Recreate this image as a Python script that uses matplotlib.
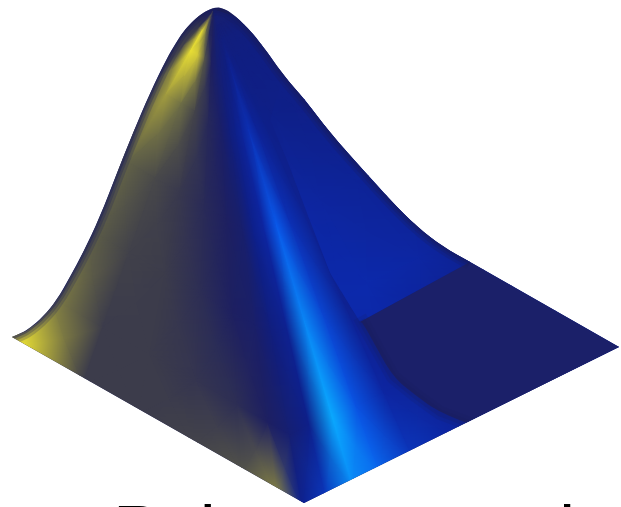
"""Lit membrane surface, drawn as gouraud shaded fans clipped to its outline."""
import numpy as np
import matplotlib
matplotlib.use('Agg')
import matplotlib.pyplot as plt
import matplotlib.patches as mpatches
from matplotlib.path import Path
from matplotlib.colors import LinearSegmentedColormap

caption = "Polyspace tool"

# outline of the surface
top_x = [12, 22, 30, 43, 57, 70, 83, 100, 117, 133, 150, 167, 176, 183, 192, 200, 208, 217, 224, 230,
         243, 260, 283, 305, 330, 363, 390, 417, 443, 470]
top_y = [337, 333, 328, 317, 300, 277, 253, 217, 173, 133, 93, 58, 43, 32, 22, 15, 10, 7, 9, 12,
         23, 42, 75, 100, 133, 170, 200, 227, 247, 262]
corner_x = [619, 304]
corner_y = [347, 503]

apex = (214, 10)
stations = [0, .06, .12, .25, .45, .65, .85, 1.0]

# fan over the whole surface
ray_x = [-80, -40, 22, 83, 138, 193, 242, 277, 303, 326, 353, 381, 414, 455, 530, 620, 600, 500]
ray_y = [120, 308, 348, 384, 415, 446, 475, 495, 510, 498, 488, 476, 460, 438, 391, 347, 250, 100]
shade = [
    [.50, .45, .42, .42, .42, .42, .42, .42],
    [.50, .42, .38, .38, .42, .42, .42, .30],
    [.50, .05, .03, .20, .33, .33, .25, .03],
    [.50, .30, .10, .30, .39, .41, .42, .42],
    [.50, .48, .36, .40, .43, .42, .42, .42],
    [.50, .50, .50, .48, .47, .46, .44, .40],
    [.52, .54, .54, .52, .50, .50, .46, .36],
    [.52, .55, .56, .57, .53, .52, .50, .25],
    [.53, .56, .57, .60, .60, .57, .54, .62],
    [.53, .56, .58, .64, .66, .62, .60, .72],
    [.53, .57, .62, .70, .82, .92, 1.0, .93],
    [.53, .57, .59, .63, .70, .76, .80, .85],
    [.53, .57, .58, .60, .62, .62, .66, .72],
    [.53, .57, .58, .59, .60, .60, .62, .66],
    [.53, .57, .58, .59, .60, .60, .60, .60],
    [.53, .57, .58, .59, .60, .60, .60, .60],
    [.53, .57, .58, .59, .60, .60, .60, .60],
    [.53, .57, .58, .59, .60, .60, .60, .60],
]

# second fold, behind the crease
lobe_x = [270, 287, 307, 330, 360, 470, 443, 417, 390, 363, 330, 305, 283]
lobe_y = [120, 160, 213, 273, 322, 262, 247, 227, 200, 170, 133, 100, 75]
lobe_ray_x = [410, 450, 530, 620, 600, 500]
lobe_ray_y = [452, 431, 391, 347, 250, 100]
lobe_shade = [
    [.59, .59, .59, .60, .66, .68, .68, .68],
    [.59, .59, .59, .60, .65, .68, .66, .66],
    [.59, .59, .59, .59, .63, .66, .60, .60],
    [.59, .59, .59, .59, .62, .60, .60, .60],
    [.59, .59, .59, .59, .60, .60, .60, .60],
    [.59, .59, .59, .59, .60, .60, .60, .60],
]

# flat part of the floor
floor_x = [360, 470, 619, 467, 440, 415, 393, 375, 363]
floor_y = [322, 262, 347, 423, 413, 395, 377, 345, 323]

light = LinearSegmentedColormap.from_list('light', [
    (0.00, '#f5eb32'), (0.15, '#beb43c'), (0.30, '#6e6e46'), (0.42, '#3c3c4b'),
    (0.50, '#1e2060'), (0.58, '#0f1e82'), (0.68, '#0c28aa'), (0.82, '#0a5aeb'),
    (1.00, '#0aaaff')])


def smooth_path(xs, ys):
    # quadratic curve through the midpoints of the polyline
    pts = np.c_[xs, ys]
    verts = [pts[0]]
    codes = [Path.MOVETO]
    for i in range(1, len(pts) - 1):
        verts += [pts[i], (pts[i] + pts[i + 1]) / 2]
        codes += [Path.CURVE3, Path.CURVE3]
    verts.append(pts[-1])
    codes.append(Path.LINETO)
    return verts, codes


def draw_fan(ax, ends_x, ends_y, values, clip):
    f = np.array(stations)
    x = apex[0] + np.outer(np.array(ends_x) - apex[0], f)
    y = apex[1] + np.outer(np.array(ends_y) - apex[1], f)
    mesh = ax.pcolormesh(x, y, np.array(values), shading='gouraud', cmap=light, vmin=0, vmax=1)
    mesh.set_clip_path(clip)


def make_plot():
    plt.close('all')
    fig = plt.figure(figsize=(6.21, 5.07), dpi=100)
    ax = fig.add_axes([0, 0, 1, 1])

    verts, codes = smooth_path(top_x, top_y)
    rim_path = Path(verts, codes)
    body_path = Path(verts + [(corner_x[0], corner_y[0]), (corner_x[1], corner_y[1]), verts[0], verts[0]],
                     codes + [Path.LINETO, Path.LINETO, Path.LINETO, Path.CLOSEPOLY])
    body = mpatches.PathPatch(body_path, fc='#191c5a', ec='none')
    ax.add_patch(body)
    draw_fan(ax, ray_x, ray_y, shade, body)

    lobe = mpatches.Polygon(np.c_[lobe_x, lobe_y], closed=True, fc='none', ec='none')
    ax.add_patch(lobe)
    draw_fan(ax, lobe_ray_x, lobe_ray_y, lobe_shade, lobe)

    # soft shadow under the floor's curved edge
    for lw, alpha in [(10, .15), (5, .2)]:
        edge, = ax.plot(floor_x[3:], floor_y[3:], color='#191c5a', lw=lw, alpha=alpha)
        edge.set_clip_path(body)
    floor_verts, floor_codes = smooth_path(floor_x[3:] + floor_x[:1], floor_y[3:] + floor_y[:1])
    floor_verts += [(floor_x[1], floor_y[1]), (floor_x[2], floor_y[2]), floor_verts[0], floor_verts[0]]
    floor_codes += [Path.LINETO, Path.LINETO, Path.LINETO, Path.CLOSEPOLY]
    floor = mpatches.PathPatch(Path(floor_verts, floor_codes), fc='#1b2069', ec='none')
    ax.add_patch(floor)
    floor.set_clip_path(body)

    # dark rim along the silhouette
    for lw, alpha in [(11, .22), (7, .28), (3.5, .4)]:
        rim = mpatches.PathPatch(rim_path, fc='none', ec='#191c5a', lw=lw, alpha=alpha)
        ax.add_patch(rim)
        rim.set_clip_path(body)

    ax.text(113, 555, caption, fontsize=51.1, family='Liberation Sans', color='k')
    ax.set_xlim(0, 621)
    ax.set_ylim(507, 0)
    ax.set_axis_off()
    fig.savefig('out.png', dpi=100, facecolor='white')


make_plot()
